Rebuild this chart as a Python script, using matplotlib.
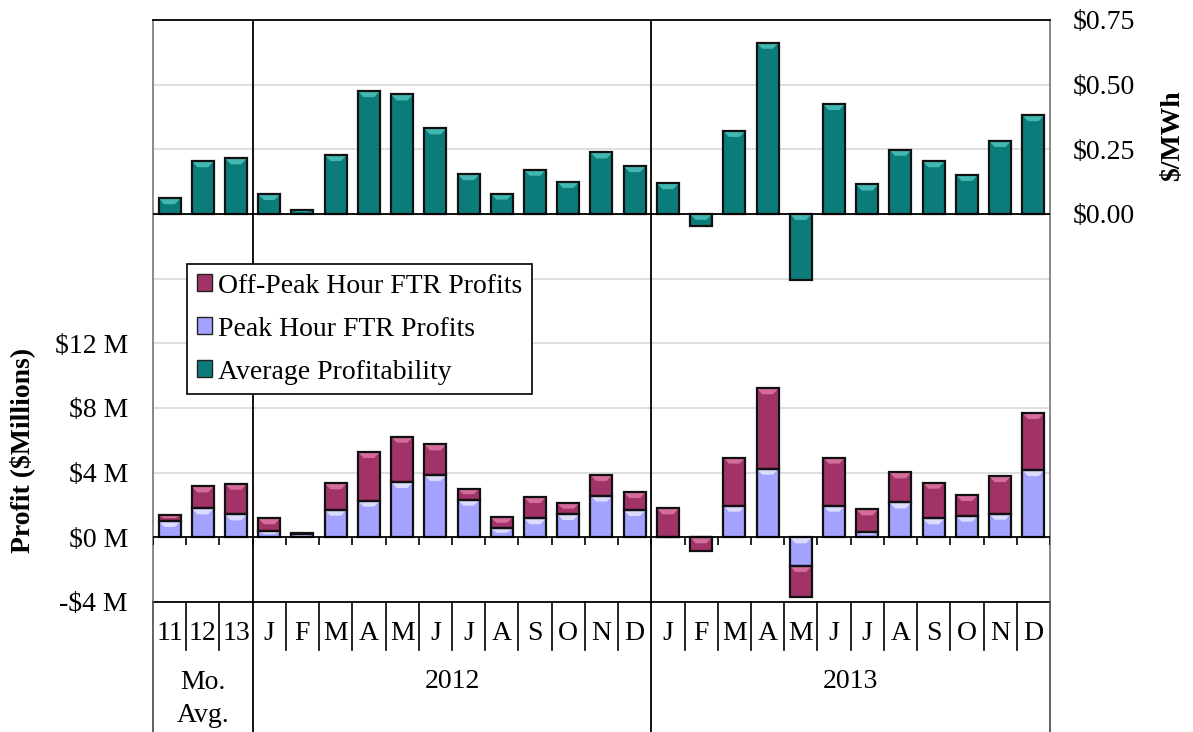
import numpy as np
import matplotlib
matplotlib.use("Agg")
import matplotlib.pyplot as plt
from matplotlib.patches import Patch, Polygon
from matplotlib.transforms import blended_transform_factory

plt.rcParams['font.family'] = ['Liberation Serif', 'DejaVu Serif']

# --- data ---
months = ['11', '12', '13',
          'J', 'F', 'M', 'A', 'M', 'J', 'J', 'A', 'S', 'O', 'N', 'D',
          'J', 'F', 'M', 'A', 'M', 'J', 'J', 'A', 'S', 'O', 'N', 'D']
groups = ['Mo.\nAvg.', '2012', '2013']
group_sizes = [3, 12, 12]

peak = [1.01, 1.79, 1.42,
        0.39, 0.20, 1.71, 2.27, 3.42, 3.86, 2.33, 0.56, 1.18, 1.44, 2.58, 1.69,
        0.00, 0.00, 1.96, 4.25, -1.77, 1.96, 0.35, 2.16, 1.18, 1.34, 1.46, 4.16]
offpeak = [0.35, 1.36, 1.90,
           0.79, 0.07, 1.63, 3.01, 2.81, 1.89, 0.68, 0.68, 1.31, 0.66, 1.28, 1.11,
           1.79, -0.82, 2.97, 4.97, -1.90, 2.97, 1.38, 1.86, 2.20, 1.28, 2.33, 3.53]
avg_profit = [0.061, 0.204, 0.215,
              0.077, 0.017, 0.228, 0.475, 0.462, 0.331, 0.154, 0.079, 0.171, 0.124, 0.238, 0.185,
              0.119, -0.045, 0.321, 0.662, -0.257, 0.425, 0.114, 0.248, 0.204, 0.151, 0.282, 0.382]

c_off, c_off_hi = '#A23368', '#D46C9C'
c_peak, c_peak_hi = '#A3A3FF', '#DCDCFF'
c_avg, c_avg_hi = '#0C7C7A', '#41B8B2'
FS = 20

fig = plt.figure(figsize=(11.93, 7.32), dpi=100)
ax = fig.add_axes([0.1282, 0.1776, 0.7519, 0.7951])
ax2 = ax.twinx()

n = len(months)
x = np.arange(n) + 0.5
w = 0.66
ax.set_xlim(0, n)
ax.set_ylim(-4, 32)
ax2.set_ylim(-1.5, 0.75)


def bevel_bars(a, xs, heights, bottoms, color, hi, px_per_unit):
    a.bar(xs, heights, w, bottom=bottoms, color=color, edgecolor='none', zorder=3)
    s = 6.0 / px_per_unit
    sx = 0.17
    for xi, h, b in zip(xs, heights, bottoms):
        if h == 0:
            continue
        top = max(b, b + h)
        s_eff = min(s, abs(h) * 0.5)
        poly = Polygon([(xi - w / 2, top), (xi + w / 2, top),
                        (xi + w / 2 - sx, top - s_eff), (xi - w / 2 + sx, top - s_eff)],
                       closed=True, facecolor=hi, edgecolor='none', zorder=3.5)
        a.add_patch(poly)
    a.bar(xs, heights, w, bottom=bottoms, fill=False, edgecolor='#111111', linewidth=1.6, zorder=4)


# gridlines (left axis, every $4M)
for g in range(-4, 33, 4):
    if g in (0, -4, 32):
        continue
    ax.axhline(g, color='#D9D9D9', linewidth=1.2, zorder=0)

bevel_bars(ax, x, peak, np.zeros(n), c_peak, c_peak_hi, 16.17)
bevel_bars(ax, x, offpeak, np.array(peak), c_off, c_off_hi, 16.17)
bevel_bars(ax2, x, avg_profit, np.zeros(n), c_avg, c_avg_hi, 258.7)

ax.axhline(0, color='black', linewidth=1.3, zorder=5)
ax2.axhline(0, color='black', linewidth=1.3, zorder=5)
ax.vlines(np.arange(n + 1), 0, -0.47, color='black', linewidth=1.2, zorder=5)

# ticks
ax.set_xticks([])
ax2.set_xticks([])
ax.set_yticks([-4, 0, 4, 8, 12])
ax.set_yticklabels(['-$4 M', '$0 M', '$4 M', '$8 M', '$12 M'])
ax.tick_params(axis='y', length=0, pad=18, labelsize=FS)
ax2.set_yticks([0, 0.25, 0.5, 0.75])
ax2.set_yticklabels(['$0.00', '$0.25', '$0.50', '$0.75'])
ax2.tick_params(axis='y', length=0, pad=16.5, labelsize=FS)

for sp in ax2.spines.values():
    sp.set_visible(False)
ax.spines['top'].set_color('black')
ax.spines['bottom'].set_color('black')
ax.spines['left'].set_color('#808080')
ax.spines['right'].set_color('#808080')
for sp in ax.spines.values():
    sp.set_linewidth(1.3)

# category table below the plot
trans = blended_transform_factory(ax.transData, ax.transAxes)
bottom_y = -130 / 582
month_y = -48 / 582
bounds = np.cumsum([0] + group_sizes)
for k in range(n + 1):
    if k in bounds:
        ax.plot([k, k], [0, bottom_y], transform=trans, color='black' if 0 < k < n else '#555555',
                linewidth=1.3, clip_on=False, zorder=6)
    else:
        ax.plot([k, k], [0, month_y], transform=trans, color='black',
                linewidth=1.2, clip_on=False, zorder=6)
for k in bounds[1:-1]:
    ax.axvline(k, color='black', linewidth=1.3, zorder=2)

for xi, m in zip(x, months):
    ax.text(xi, -32 / 582, m, transform=trans, ha='center', va='center', fontsize=FS)
for gi, (lab, b0, b1) in enumerate(zip(groups, bounds[:-1], bounds[1:])):
    if '\n' in lab:
        ax.text((b0 + b1) / 2, -97 / 582, lab, transform=trans, ha='center', va='center',
                fontsize=FS, linespacing=1.38)
    else:
        ax.text((b0 + b1) / 2, -80 / 582, lab, transform=trans, ha='center', va='center', fontsize=FS)

fig.text(22 / 1193, 1 - 450 / 732, 'Profit ($Millions)', rotation=90, ha='center', va='center',
         fontsize=FS, fontweight='bold')
fig.text(1173 / 1193, 1 - 136 / 732, '$/MWh', rotation=90, ha='center', va='center',
         fontsize=FS, fontweight='bold')

handles = [Patch(facecolor=c_off, edgecolor='#222222', label='Off-Peak Hour FTR Profits'),
           Patch(facecolor=c_peak, edgecolor='#222222', label='Peak Hour FTR Profits'),
           Patch(facecolor=c_avg, edgecolor='#222222', label='Average Profitability')]
leg = ax2.legend(handles=handles, loc='upper left', bbox_to_anchor=(0.038, 0.581),
                 borderaxespad=0, fontsize=FS, frameon=True, fancybox=False,
                 edgecolor='black', framealpha=1, handlelength=0.55, handleheight=0.55,
                 handletextpad=0.2, labelspacing=0.65, borderpad=0.35)
leg.get_frame().set_linewidth(1.2)
leg.set_zorder(10)

fig.savefig('out.png', dpi=100)
